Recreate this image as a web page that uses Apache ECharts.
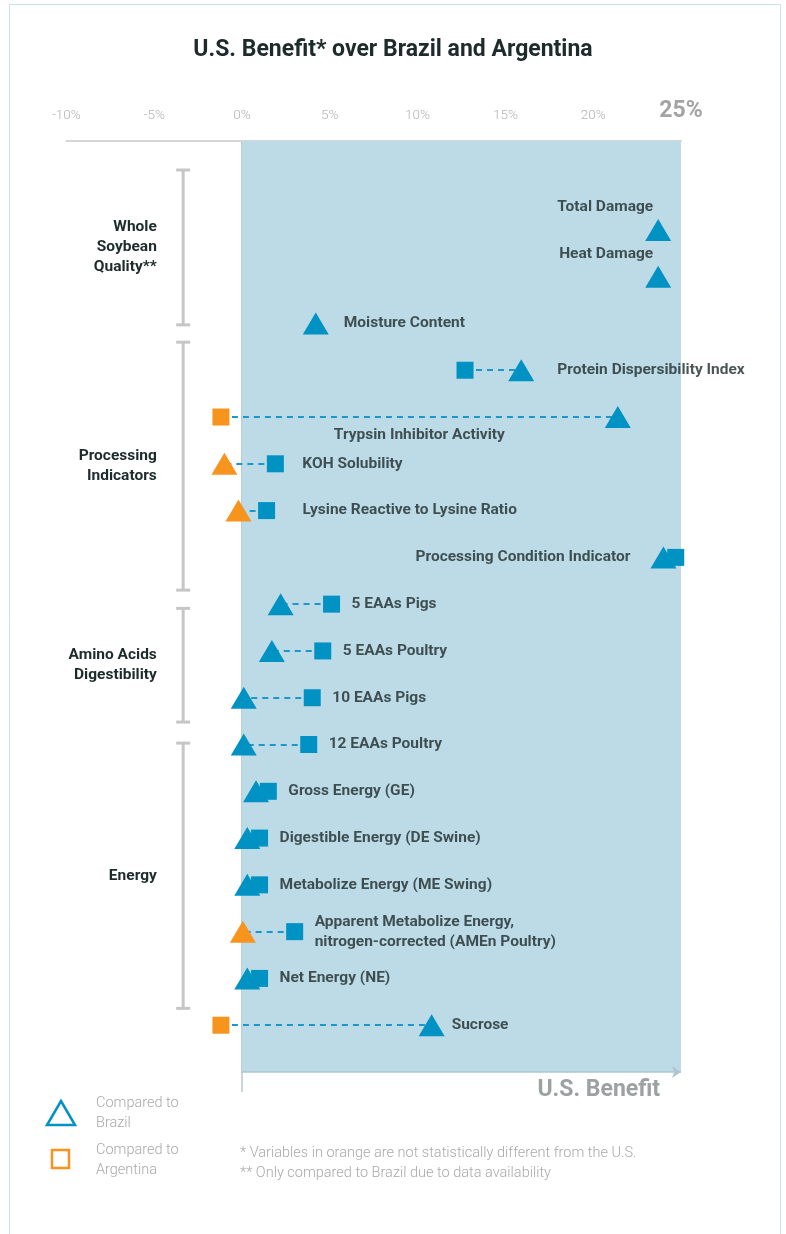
<!DOCTYPE html>
<html>
<head>
<meta charset="utf-8">
<title>U.S. Benefit over Brazil and Argentina</title>
<script src="https://cdn.jsdelivr.net/npm/echarts@6/dist/echarts.min.js"></script>
<style>
  html, body { margin: 0; padding: 0; background: #fff; }
  #chart { width: 786px; height: 1234px; }
</style>
</head>
<body>
<div id="chart"></div>
<script>
// % benefit of U.S. soybean
const AMEN = 'Apparent Metabolize Energy,\nnitrogen-corrected (AMEn Poultry)'
const items = [
  'Total Damage', 'Heat Damage', 'Moisture Content',
  'Protein Dispersibility Index', 'Trypsin Inhibitor Activity', 'KOH Solubility',
  'Lysine Reactive to Lysine Ratio', 'Processing Condition Indicator',
  '5 EAAs Pigs', '5 EAAs Poultry', '10 EAAs Pigs', '12 EAAs Poultry',
  'Gross Energy (GE)', 'Digestible Energy (DE Swine)', 'Metabolize Energy (ME Swing)',
  AMEN, 'Net Energy (NE)', 'Sucrose'
]
const vsBrazil = [23.7, 23.7, 4.2, 15.9, 21.4, -1.0, -0.2, 24.0, 2.2, 1.7, 0.1, 0.1, 0.8, 0.3, 0.3, 0.05, 0.3, 10.8]
const vsArgentina = [null, null, null, 12.7, -1.2, 1.9, 1.4, 24.7, 5.1, 4.6, 4.0, 3.8, 1.5, 1.0, 1.0, 3.0, 1.0, -1.2]
// orange = not statistically different from the U.S.
const notSigBrazil = ['KOH Solubility', 'Lysine Reactive to Lysine Ratio', AMEN]
const notSigArgentina = ['Trypsin Inhibitor Activity', 'Sucrose']
const xTicks = [-10, -5, 0, 5, 10, 15, 20, 25]
const groups = ['Whole\nSoybean\nQuality**', 'Processing\nIndicators', 'Amino Acids\nDigestibility', 'Energy']

// layout only (row units on the y axis)
const groupSpans = [[-1.28, 2.03], [2.40, 7.70], [8.09, 10.52], [10.97, 16.64]]
const labelLayout = {
  'Total Damage': { side: 'above' },
  'Heat Damage': { side: 'above' },
  'Moisture Content': { gap: 28 },
  'Protein Dispersibility Index': { gap: 36 },
  'Trypsin Inhibitor Activity': { side: 'below' },
  'KOH Solubility': { gap: 27 },
  'Lysine Reactive to Lysine Ratio': { gap: 36 },
  'Processing Condition Indicator': { side: 'left', gap: 33 }
}

const BLUE = '#0092c3'
const ORANGE = '#f7941e'
const AREA = '#bcdbe7'
const DARK = '#1e2b2b'
const GREY = '#a9a9a9'
const FONT = 'Roboto'
const yMin = -1.9
const yMax = 18

const chart = echarts.init(document.getElementById('chart'))

const brazilData = []
const argData = []
const links = []
items.forEach((name, i) => {
  const b = vsBrazil[i]
  const a = vsArgentina[i]
  if (b != null) {
    brazilData.push({ value: [b, i], itemStyle: { color: notSigBrazil.includes(name) ? ORANGE : BLUE } })
  }
  if (a != null) {
    argData.push({ value: [a, i], itemStyle: { color: notSigArgentina.includes(name) ? ORANGE : BLUE } })
  }
  if (a != null && b != null) {
    links.push({ coords: [[a, i], [b, i]] })
  }
})

const labelData = items.map((name, i) => {
  const vals = [vsBrazil[i], vsArgentina[i]].filter(v => v != null)
  const lo = Math.min(...vals)
  const hi = Math.max(...vals)
  const lay = labelLayout[name] || {}
  const side = lay.side || 'right'
  let x = hi
  let label
  if (side === 'right') {
    label = { position: 'right', distance: lay.gap || 20 }
  } else if (side === 'left') {
    x = lo
    label = { position: 'left', distance: lay.gap }
  } else if (side === 'above') {
    label = { position: 'left', distance: 5, offset: [0, -23] }
  } else {
    x = (lo + hi) / 2
    label = { position: 'bottom', distance: 8 }
  }
  return { value: [x, i], name: name, label: label }
})

chart.setOption({
  animation: false,
  title: {
    text: 'U.S. Benefit* over Brazil and Argentina',
    left: 'center',
    top: 34,
    textStyle: { color: DARK, fontSize: 23, fontWeight: 'bold', fontFamily: FONT }
  },
  grid: { left: 66.4, right: 105, top: 141, bottom: 162 },
  xAxis: {
    type: 'value',
    position: 'top',
    min: xTicks[0],
    max: xTicks[xTicks.length - 1],
    interval: xTicks[1] - xTicks[0],
    axisLine: { show: true, onZero: false, lineStyle: { color: '#d6d6d6', width: 2 } },
    axisTick: { show: false },
    splitLine: { show: false },
    axisLabel: {
      margin: 18,
      verticalAlign: 'bottom',
      color: '#b3b3b3',
      fontSize: 13.5,
      fontWeight: 300,
      fontFamily: FONT,
      formatter: v => v === 25 ? '{big|25%}' : v + '%',
      rich: {
        big: { fontSize: 23, fontWeight: 'bold', color: '#a3a3a3', fontFamily: FONT, verticalAlign: 'bottom' }
      }
    }
  },
  yAxis: {
    type: 'value',
    inverse: true,
    min: yMin,
    max: yMax,
    axisLine: { show: true, onZero: true, lineStyle: { color: '#a3bcc8', width: 1.5 } },
    axisTick: { show: false },
    axisLabel: { show: false },
    splitLine: { show: false }
  },
  series: [
    {
      name: 'bg',
      type: 'scatter',
      z: 1,
      silent: true,
      data: [],
      markArea: {
        silent: true,
        itemStyle: { color: AREA },
        data: [[{ xAxis: 0 }, { xAxis: 25 }]]
      },
      markLine: {
        silent: true,
        symbol: ['none', 'arrow'],
        symbolSize: 9,
        label: { show: false },
        lineStyle: { color: '#aec6d1', width: 1.5, type: 'solid' },
        data: [[{ coord: [0, yMax] }, { coord: [25, yMax] }]]
      }
    },
    {
      type: 'custom',
      silent: true,
      clip: false,
      z: 2,
      data: groupSpans.map((s, k) => [s[0], s[1], k]),
      renderItem: (params, api) => {
        const top = api.coord([-3.35, api.value(0)])
        const bot = api.coord([-3.35, api.value(1)])
        const lx = api.coord([-4.85, 0])[0]
        const st = { stroke: '#c6c6c6', lineWidth: 3 }
        return {
          type: 'group',
          children: [
            { type: 'line', shape: { x1: top[0], y1: top[1], x2: bot[0], y2: bot[1] }, style: st },
            { type: 'line', shape: { x1: top[0] - 7, y1: top[1], x2: top[0] + 7, y2: top[1] }, style: st },
            { type: 'line', shape: { x1: bot[0] - 7, y1: bot[1], x2: bot[0] + 7, y2: bot[1] }, style: st },
            {
              type: 'text',
              style: {
                text: groups[api.value(2)],
                x: lx,
                y: (top[1] + bot[1]) / 2,
                align: 'right',
                verticalAlign: 'middle',
                fill: DARK,
                fontSize: 15.5,
                fontWeight: 'bold',
                fontFamily: FONT,
                lineHeight: 20
              }
            }
          ]
        }
      }
    },
    {
      type: 'lines',
      coordinateSystem: 'cartesian2d',
      silent: true,
      z: 3,
      lineStyle: { color: '#1a98cc', width: 2, type: [6, 5], opacity: 1 },
      data: links
    },
    {
      name: 'Brazil',
      type: 'scatter',
      z: 4,
      silent: true,
      symbol: 'triangle',
      symbolSize: [26, 22],
      itemStyle: { opacity: 1 },
      data: brazilData
    },
    {
      name: 'Argentina',
      type: 'scatter',
      z: 5,
      silent: true,
      symbol: 'rect',
      symbolSize: 17,
      itemStyle: { opacity: 1 },
      data: argData
    },
    {
      name: 'labels',
      type: 'scatter',
      z: 6,
      silent: true,
      symbolSize: 0,
      label: {
        show: true,
        formatter: p => p.name,
        color: DARK,
        fontSize: 15.5,
        fontWeight: 'bold',
        fontFamily: FONT,
        lineHeight: 20
      },
      data: labelData
    }
  ]
})

// outline, legend, footnotes and the bits drawn off the plot
const zero = chart.convertToPixel({ gridIndex: 0 }, [0, yMax])
const legendText = { fill: GREY, fontSize: 14.5, fontFamily: FONT, fontWeight: 300, lineHeight: 20 }
chart.setOption({
  graphic: [
    { type: 'rect', shape: { x: 9.5, y: 4.5, width: 771, height: 1260 }, style: { fill: 'none', stroke: '#c8e2ed', lineWidth: 1 }, silent: true },
    { type: 'line', shape: { x1: zero[0], y1: zero[1], x2: zero[0], y2: zero[1] + 20 }, style: { stroke: '#b9c9cf', lineWidth: 1.5 }, silent: true },
    { type: 'text', style: { text: 'U.S. Benefit', x: 660, y: 1090, align: 'right', verticalAlign: 'middle', fill: '#9ca1a1', fontSize: 23, fontWeight: 'bold', fontFamily: FONT } },
    { type: 'polygon', shape: { points: [[61, 1101], [75, 1125], [47, 1125]] }, style: { fill: 'none', stroke: BLUE, lineWidth: 2.5 } },
    { type: 'text', style: Object.assign({ text: 'Compared to\nBrazil', x: 96, y: 1113, verticalAlign: 'middle' }, legendText) },
    { type: 'rect', shape: { x: 52, y: 1150, width: 17, height: 18 }, style: { fill: 'none', stroke: ORANGE, lineWidth: 2.5 } },
    { type: 'text', style: Object.assign({ text: 'Compared to\nArgentina', x: 96, y: 1160, verticalAlign: 'middle' }, legendText) },
    { type: 'text', style: Object.assign({}, legendText, { text: '* Variables in orange are not statistically different from the U.S.\n** Only compared to Brazil due to data availability', x: 240, y: 1163, verticalAlign: 'middle', fontSize: 14.5 }) }
  ]
})
</script>
</body>
</html>
